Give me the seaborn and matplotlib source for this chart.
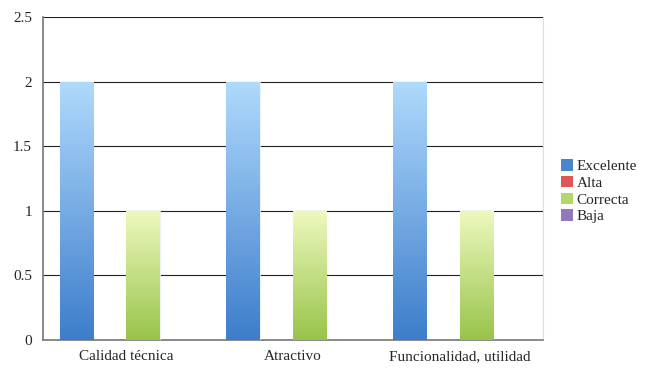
import numpy as np
import pandas as pd
import seaborn as sns
import matplotlib.pyplot as plt
from matplotlib.colors import LinearSegmentedColormap

# data
categories = ['Calidad técnica', 'Atractivo', 'Funcionalidad, utilidad']
series = ['Excelente', 'Alta', 'Correcta', 'Baja']
excelente = [2, 2, 2]
alta = [0, 0, 0]
correcta = [1, 1, 1]
baja = [0, 0, 0]
ytick_labels = ['0', '0.5', '1', '1.5', '2', '2.5']

df = pd.DataFrame({
    'categoria': categories * 4,
    'serie': [s for s in series for _ in categories],
    'valor': excelente + alta + correcta + baja,
})

# top / bottom colours of the gradient for each series
grad = {
    'Excelente': ('#b0dafd', '#3d7dcb'),
    'Alta': ('#f5a0a0', '#d94444'),
    'Correcta': ('#eef9bf', '#98c44a'),
    'Baja': ('#c9b3e6', '#8064a2'),
}
solid = {'Excelente': '#4a86d0', 'Alta': '#e05555', 'Correcta': '#b4d66a', 'Baja': '#9278bd'}

sns.set_style('white')
plt.rcParams['font.family'] = ['Liberation Serif', 'DejaVu Serif']

fig = plt.figure(figsize=(6.47, 3.68), dpi=100)
ax = fig.add_axes([0.0665, 0.076, 0.7725, 0.878])

sns.barplot(data=df, x='categoria', y='valor', hue='serie', hue_order=series,
            palette=solid, width=0.8, ax=ax, legend=False, zorder=3)

# vertical gradient inside every bar
for cont, name in zip(ax.containers, series):
    cmap = LinearSegmentedColormap.from_list(name, [grad[name][1], grad[name][0]])
    for p in cont.patches:
        h = p.get_height()
        if h <= 0:
            p.set_visible(False)
            continue
        x0 = p.get_x()
        w = p.get_width()
        img = ax.imshow(np.linspace(0, 1, 256).reshape(-1, 1), cmap=cmap,
                        origin='lower', aspect='auto',
                        extent=[x0, x0 + w, 0, h], zorder=3)
        img.set_clip_path(p)
        p.set_facecolor('none')
        p.set_edgecolor('#e8f2fb')
        p.set_linewidth(0.6)

ax.set_xlim(-0.5, 2.5)
ax.set_ylim(0, 2.5)

ax.set_yticks([0, 0.5, 1, 1.5, 2, 2.5])
ax.set_yticklabels(ytick_labels)
ax.yaxis.grid(True, color='#222222', linewidth=0.8, zorder=1)
ax.set_axisbelow(True)

ax.set_xticks([0, 1, 2])
ax.set_xticklabels(categories)
ax.set_xticks([-0.5, 0.5, 1.5, 2.5], minor=True)
ax.tick_params(axis='x', which='major', length=0, pad=7, labelsize=11)
ax.tick_params(axis='x', which='minor', length=5, width=1, color='#666666', direction='out')
ax.tick_params(axis='y', length=5, width=1, color='#666666', direction='out', pad=3, labelsize=11)
ax.set_xlabel('')
ax.set_ylabel('')

for side in ['left', 'bottom']:
    ax.spines[side].set_color('#777777')
    ax.spines[side].set_linewidth(1.2)
ax.spines['right'].set_color('#dddddd')
ax.spines['right'].set_linewidth(0.8)
ax.spines['top'].set_visible(False)

handles = [plt.Rectangle((0, 0), 1, 1, facecolor=solid[s], edgecolor='none') for s in series]
fig.legend(handles, series, loc='center left', bbox_to_anchor=(0.858, 0.48),
           frameon=False, fontsize=11, handlelength=0.75, handleheight=0.75,
           handletextpad=0.25, labelspacing=0.18, borderaxespad=0)

fig.savefig('out.png', dpi=100)
